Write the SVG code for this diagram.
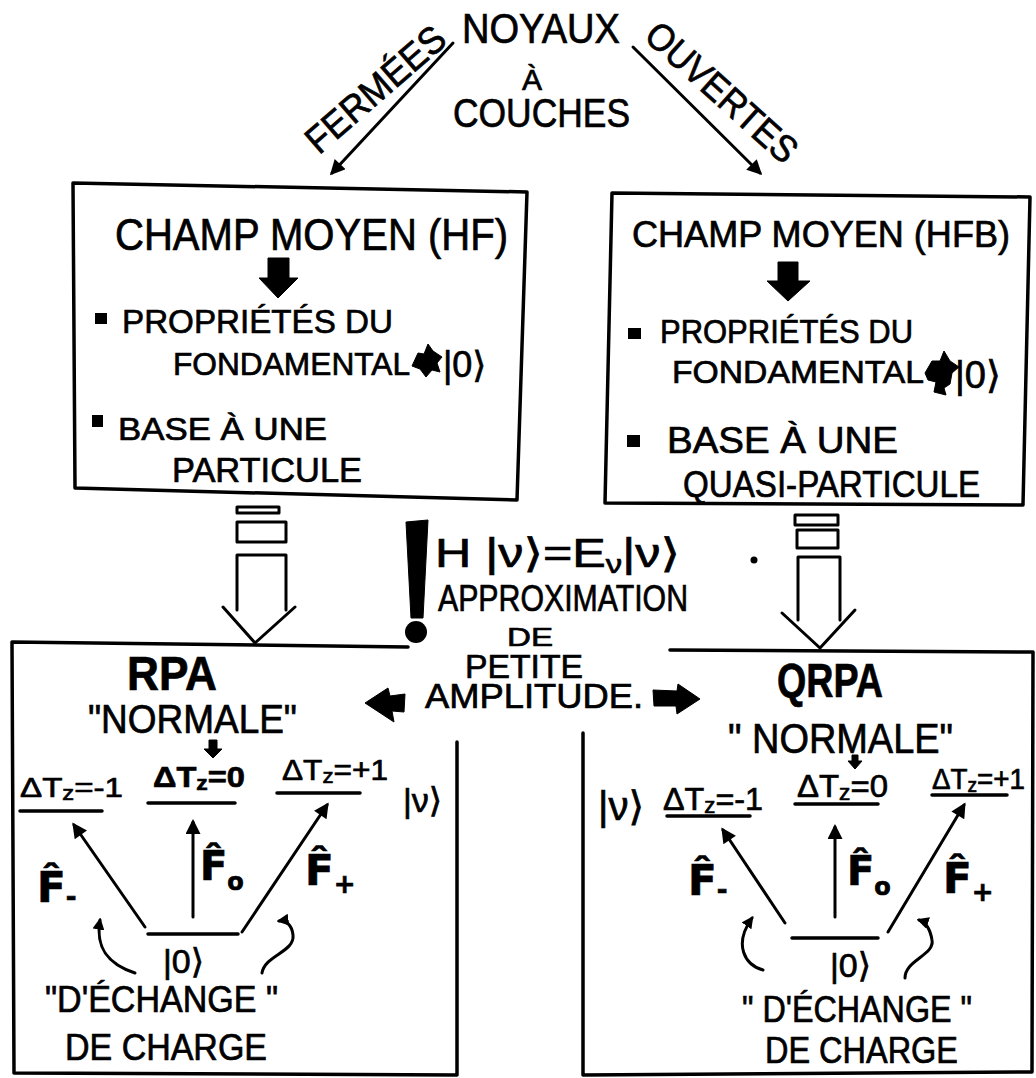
<svg xmlns="http://www.w3.org/2000/svg" width="1036" height="1078" viewBox="0 0 1036 1078">
<defs>
<marker id="ah" viewBox="0 0 10 10" refX="8" refY="5" markerWidth="6" markerHeight="5" orient="auto" markerUnits="strokeWidth">
<path d="M0,0 L10,5 L0,10 z" fill="#000"/>
</marker>
<marker id="ahs" viewBox="0 0 10 10" refX="8" refY="5" markerWidth="4" markerHeight="4" orient="auto" markerUnits="strokeWidth">
<path d="M0,0 L10,5 L0,10 z" fill="#000"/>
</marker>
</defs>
<style>
text{font-family:"Liberation Sans","DejaVu Sans",sans-serif;fill:#000;stroke:#000;stroke-width:0.7}
.f{font-family:"DejaVu Sans",sans-serif;font-weight:bold}
.b{font-weight:bold}
.box{fill:none;stroke:#000;stroke-width:3.5;stroke-linejoin:round;stroke-linecap:round}
.ln{fill:none;stroke:#000;stroke-width:3;stroke-linecap:round;stroke-linejoin:round}
.ul{fill:none;stroke:#000;stroke-width:3.5;stroke-linecap:round}
.blk{fill:#000;stroke:#000;stroke-width:1;stroke-linejoin:round}
</style>
<rect width="1036" height="1078" fill="#fff"/>

<g id="title">
<text x="462" y="43" font-size="42" textLength="158" lengthAdjust="spacingAndGlyphs">NOYAUX</text>
<text x="532" y="90" font-size="30" text-anchor="middle">À</text>
<text x="453" y="127" font-size="40" textLength="177" lengthAdjust="spacingAndGlyphs">COUCHES</text>
<text x="384" y="99" font-size="38" text-anchor="middle" transform="rotate(-41 384 99)" textLength="172" lengthAdjust="spacingAndGlyphs">FERMÉES</text>
<text x="713" y="102" font-size="38" text-anchor="middle" transform="rotate(42 713 102)" textLength="190" lengthAdjust="spacingAndGlyphs">OUVERTES</text>
</g>

<g id="hf">
<path class="box" d="M73,183 L527,192 L517,500 L75,488 Z"/>
<text x="115" y="250" font-size="44" textLength="393" lengthAdjust="spacingAndGlyphs">CHAMP MOYEN (HF)</text>
<path class="blk" d="M268,258 L289,258 L289,278 L298,278 L278,298 L259,278 L268,278 Z"/>
<rect x="95" y="313" width="12" height="11" fill="#000"/>
<text x="122" y="333" font-size="34" textLength="271" lengthAdjust="spacingAndGlyphs">PROPRIÉTÉS DU</text>
<text x="173" y="375" font-size="32" textLength="237" lengthAdjust="spacingAndGlyphs">FONDAMENTAL</text>
<path class="blk" d="M412,366 L418,353 L424,354 L428,344 L433,351 L442,357 L437,363 L440,372 L432,370 L426,377 L420,369 Z"/>
<text x="443" y="377" font-size="36">|0⟩</text>
<rect x="92" y="415" width="11" height="12" fill="#000"/>
<text x="118" y="440" font-size="32" textLength="209" lengthAdjust="spacingAndGlyphs">BASE À UNE</text>
<text x="172" y="482" font-size="35" textLength="190" lengthAdjust="spacingAndGlyphs">PARTICULE</text>
</g>

<g id="hfb">
<path class="box" d="M612,193 L1030,197 L1023,505 L605,503 Z"/>
<text x="632" y="247" font-size="37" textLength="378" lengthAdjust="spacingAndGlyphs">CHAMP MOYEN (HFB)</text>
<path class="blk" d="M778,262 L798,262 L798,281 L810,281 L788,301 L767,281 L778,281 Z"/>
<rect x="628" y="328" width="13" height="11" fill="#000"/>
<text x="660" y="343" font-size="33" textLength="253" lengthAdjust="spacingAndGlyphs">PROPRIÉTÉS DU</text>
<text x="672" y="383" font-size="32" textLength="252" lengthAdjust="spacingAndGlyphs">FONDAMENTAL</text>
<path class="blk" d="M925,373 L932,361 L940,361 L944,351 L950,361 L959,367 L952,373 L950,384 L944,388 L946,395 L934,392 L936,382 L928,380 Z"/>
<text x="955" y="388" font-size="38">|0⟩</text>
<rect x="627" y="435" width="13" height="12" fill="#000"/>
<text x="667" y="453" font-size="36" textLength="231" lengthAdjust="spacingAndGlyphs">BASE À UNE</text>
<text x="683" y="497" font-size="36" textLength="297" lengthAdjust="spacingAndGlyphs">QUASI-PARTICULE</text>
</g>

<g id="approx">
<path class="blk" d="M406,522 L428,520 L423,618 L411,618 Z"/>
<circle cx="416" cy="632" r="11" fill="#000"/>
<text x="435" y="567" font-size="40" textLength="245" lengthAdjust="spacingAndGlyphs">H |ν⟩=E<tspan font-size="26" dy="6">ν</tspan><tspan dy="-6">|ν⟩</tspan></text>
<circle cx="754" cy="560" r="3.5" fill="#000"/>
<text x="438" y="611" font-size="37" textLength="250" lengthAdjust="spacingAndGlyphs">APPROXIMATION</text>
<text x="507" y="646" font-size="26" textLength="46" lengthAdjust="spacingAndGlyphs">DE</text>
<text x="465" y="678" font-size="34" textLength="118" lengthAdjust="spacingAndGlyphs">PETITE</text>
<text x="425" y="708" font-size="35" textLength="218" lengthAdjust="spacingAndGlyphs">AMPLITUDE.</text>
</g>

<g id="rpa">
<path class="box" d="M408,647 L12,642 L14,1073 L457,1075 L457,742"/>
<text x="127" y="690" font-size="48" class="b" textLength="90" lengthAdjust="spacingAndGlyphs">RPA</text>
<text x="88" y="733" font-size="40" textLength="209" lengthAdjust="spacingAndGlyphs">"NORMALE"</text>
<path class="blk" d="M209,740 L217,740 L217,749 L222,749 L213,758 L204,749 L209,749 Z"/>
<text x="20" y="797" font-size="28" textLength="103" lengthAdjust="spacingAndGlyphs">ΔT<tspan font-size="20" dy="3">z</tspan><tspan dy="-3">=-1</tspan></text>
<line class="ul" x1="20" y1="811" x2="102" y2="811"/>
<text x="153" y="787" font-size="30" class="b" textLength="92" lengthAdjust="spacingAndGlyphs">ΔT<tspan font-size="21" dy="3">z</tspan><tspan dy="-3">=0</tspan></text>
<line class="ul" x1="148" y1="803" x2="235" y2="803" stroke-width="4.5"/>
<text x="282" y="780" font-size="30" textLength="106" lengthAdjust="spacingAndGlyphs">ΔT<tspan font-size="21" dy="3">z</tspan><tspan dy="-3">=+1</tspan></text>
<line class="ul" x1="277" y1="793" x2="360" y2="793"/>
<text x="403" y="812" font-size="34">|ν⟩</text>
<text x="37" y="902" font-size="42" class="f">F̂<tspan font-size="26" dy="4">-</tspan></text>
<text x="200" y="880" font-size="40" class="f">F̂<tspan font-size="24" dy="10">o</tspan></text>
<text x="305" y="885" font-size="42" class="f">F̂<tspan font-size="26" dy="8">+</tspan></text>
<line class="ul" x1="148" y1="934" x2="238" y2="934" stroke-width="4.5"/>
<text x="163" y="973" font-size="34">|0⟩</text>
<text x="45" y="1012" font-size="36" textLength="233" lengthAdjust="spacingAndGlyphs">"D'ÉCHANGE "</text>
<text x="65" y="1060" font-size="36" textLength="202" lengthAdjust="spacingAndGlyphs">DE CHARGE</text>
</g>

<g id="qrpa">
<path class="box" d="M670,650 L1033,652 L1032,1072 L583,1075 L583,733"/>
<text x="777" y="697" font-size="48" class="b" textLength="106" lengthAdjust="spacingAndGlyphs">QRPA</text>
<text x="728" y="753" font-size="42" textLength="225" lengthAdjust="spacingAndGlyphs">" NORMALE"</text>
<path class="blk" d="M852,755 L858,755 L858,761 L862,761 L855,769 L848,761 L852,761 Z"/>
<text x="598" y="820" font-size="40">|ν⟩</text>
<text x="663" y="810" font-size="32" textLength="100" lengthAdjust="spacingAndGlyphs">ΔT<tspan font-size="22" dy="3">z</tspan><tspan dy="-3">=-1</tspan></text>
<line class="ul" x1="667" y1="816" x2="750" y2="816" stroke-width="4.5"/>
<text x="797" y="797" font-size="32" textLength="91" lengthAdjust="spacingAndGlyphs">ΔT<tspan font-size="22" dy="3">z</tspan><tspan dy="-3">=0</tspan></text>
<line class="ul" x1="795" y1="804" x2="878" y2="804" stroke-width="4.5"/>
<text x="932" y="789" font-size="29" textLength="93" lengthAdjust="spacingAndGlyphs">ΔT<tspan font-size="20" dy="3">z</tspan><tspan dy="-3">=+1</tspan></text>
<line class="ul" x1="932" y1="795" x2="1007" y2="795"/>
<text x="688" y="895" font-size="42" class="f">F̂<tspan font-size="26" dy="4">-</tspan></text>
<text x="847" y="885" font-size="40" class="f">F̂<tspan font-size="24" dy="10">o</tspan></text>
<text x="943" y="893" font-size="42" class="f">F̂<tspan font-size="26" dy="8">+</tspan></text>
<line class="ul" x1="792" y1="938" x2="878" y2="938" stroke-width="4.5"/>
<text x="830" y="977" font-size="34">|0⟩</text>
<text x="742" y="1022" font-size="36" textLength="230" lengthAdjust="spacingAndGlyphs">" D'ÉCHANGE "</text>
<text x="765" y="1063" font-size="36" textLength="193" lengthAdjust="spacingAndGlyphs">DE CHARGE</text>
</g>

<g id="connectors">
<line class="ln" x1="453" y1="43" x2="332" y2="173" stroke-width="3.5" marker-end="url(#ah)"/>
<line class="ln" x1="633" y1="47" x2="760" y2="173" stroke-width="3.5" marker-end="url(#ah)"/>
<rect class="ln" x="237" y="507" width="42" height="6"/>
<rect class="ln" x="237" y="522" width="49" height="20"/>
<path class="ln" d="M237,610 L237,555 L286,555 L286,610"/>
<path class="ln" d="M223,607 L255,643 L295,607" stroke-width="3.5"/>
<rect class="ln" x="795" y="515" width="43" height="10"/>
<rect class="ln" x="797" y="530" width="41" height="18"/>
<path class="ln" d="M798,620 L798,557 L840,557 L840,620"/>
<path class="ln" d="M782,613 L820,648 L855,610" stroke-width="3.5"/>
<path class="blk" d="M365,703 L388,688 L390,696 L405,694 L404,712 L392,711 L394,722 Z"/>
<path class="blk" d="M700,699 L678,684 L677,691 L653,690 L654,706 L676,706 L677,714 Z"/>
<line class="ln" x1="145" y1="927" x2="74" y2="825" marker-end="url(#ah)"/>
<line class="ln" x1="193" y1="917" x2="193" y2="822" marker-end="url(#ah)"/>
<line class="ln" x1="242" y1="932" x2="327" y2="805" marker-end="url(#ah)"/>
<path class="ln" d="M135,973 C110,965 95,950 100,920" stroke-width="3.5" marker-end="url(#ahs)"/>
<path class="ln" d="M262,973 C265,955 295,952 293,935 C292,925 286,920 279,921" stroke-width="3.5" marker-end="url(#ahs)"/>
<line class="ln" x1="785" y1="923" x2="723" y2="830" marker-end="url(#ah)"/>
<line class="ln" x1="835" y1="917" x2="835" y2="827" marker-end="url(#ah)"/>
<line class="ln" x1="888" y1="932" x2="964" y2="805" marker-end="url(#ah)"/>
<path class="ln" d="M763,970 C745,965 733,945 752,918" stroke-width="3.5" marker-end="url(#ahs)"/>
<path class="ln" d="M905,978 C905,960 935,955 932,940 C930,928 925,922 919,920" stroke-width="3.5" marker-end="url(#ahs)"/>
</g>
</svg>
